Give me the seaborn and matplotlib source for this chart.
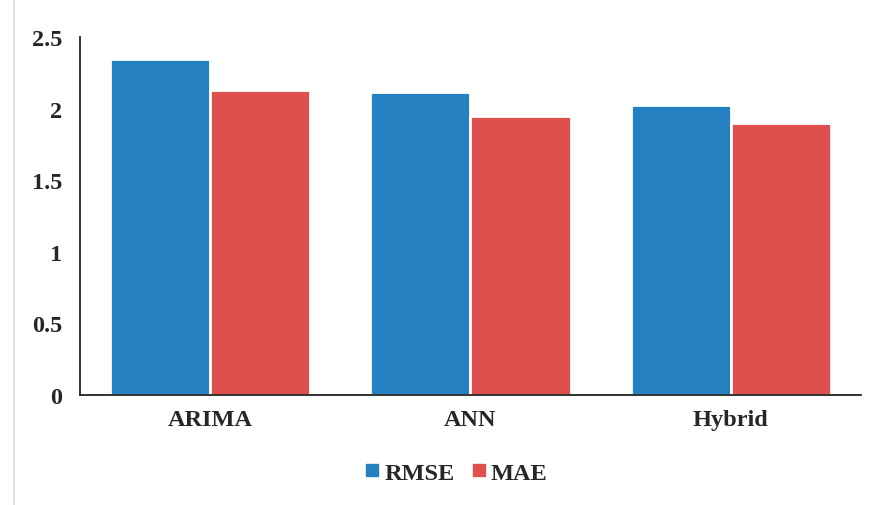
import matplotlib
matplotlib.use("Agg")
import matplotlib.pyplot as plt
from matplotlib.lines import Line2D
import seaborn as sns
import pandas as pd

# Error metrics per forecasting model
models = ["ARIMA", "ANN", "Hybrid"]
rmse = [2.35, 2.12, 2.03]
mae = [2.13, 1.95, 1.90]
metrics = ["RMSE", "MAE"]
yticks = [0, 0.5, 1, 1.5, 2, 2.5]
ytick_labels = ["0", "0.5", "1", "1.5", "2", "2.5"]

df = pd.DataFrame({
    "Model": models * 2,
    "Metric": ["RMSE"] * len(models) + ["MAE"] * len(models),
    "Value": rmse + mae,
})

sns.set_theme(style="white")
plt.rcParams["font.family"] = "serif"
plt.rcParams["font.serif"] = ["Liberation Serif", "DejaVu Serif"]
plt.rcParams["font.weight"] = "bold"

fig = plt.figure(figsize=(8.8, 5.06), dpi=100)
ax = fig.add_axes([0.0909, 0.2174, 0.8875, 0.7066])

palette = {"RMSE": "#2580C1", "MAE": "#DF4F4E"}
sns.barplot(data=df, x="Model", y="Value", hue="Metric", hue_order=metrics,
            palette=palette, order=models, width=0.77, saturation=1,
            edgecolor="white", linewidth=2, ax=ax, legend=True)

ax.set_ylim(0, 2.5)
ax.set_xlim(-0.5, 2.5)
ax.set_yticks(yticks)
ax.set_yticklabels(ytick_labels)
ax.set_xlabel("")
ax.set_ylabel("")
ax.tick_params(axis="both", length=0, labelsize=17.5)
for lab in ax.get_xticklabels() + ax.get_yticklabels():
    lab.set_fontweight("bold")
ax.tick_params(axis="y", pad=13)
ax.tick_params(axis="x", pad=10)

for side in ["top", "right"]:
    ax.spines[side].set_visible(False)
for side in ["left", "bottom"]:
    ax.spines[side].set_color("#222222")
    ax.spines[side].set_linewidth(1.3)

handles = [Line2D([0], [0], marker="s", linestyle="none", markersize=8.5,
                  markerfacecolor=palette[m], markeredgecolor=palette[m])
           for m in metrics]
ax.legend(handles, metrics, loc="center", bbox_to_anchor=(0.48, -0.218),
          ncol=2, frameon=False, handletextpad=0.1, columnspacing=0.6,
          handlelength=0.8, prop={"weight": "bold", "size": 17.5})

# thin border line at the left edge of the figure
fig.add_artist(Line2D([14 / 880, 14 / 880], [0, 1], transform=fig.transFigure,
                      color="#dddddd", linewidth=1.2))

fig.savefig("out.png", dpi=100)
